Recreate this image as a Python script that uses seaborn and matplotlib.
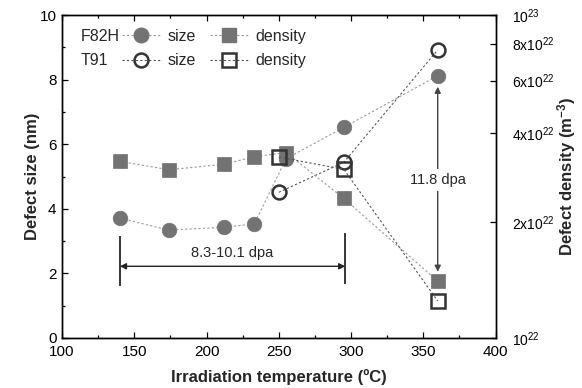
import numpy as np
import pandas as pd
import matplotlib
matplotlib.use("Agg")
import matplotlib.pyplot as plt
import matplotlib.transforms as mtransforms
from matplotlib.lines import Line2D
from matplotlib.ticker import MultipleLocator, FixedLocator, FixedFormatter, NullLocator
import seaborn as sns

# data
temp_f82h = [140, 174, 212, 233, 255, 295, 360]
size_f82h = [3.71, 3.34, 3.43, 3.53, 5.55, 6.52, 8.12]
dens_f82h = [3.2e22, 3.0e22, 3.13e22, 3.32e22, 3.43e22, 2.4e22, 1.26e22]

temp_t91 = [250, 295, 360]
size_t91 = [4.51, 5.44, 8.92]
dens_t91 = [3.31e22, 3.01e22, 1.08e22]

# density axis as drawn in the original (bottom labelled 10^22)
dens_lim = (8.1e21, 1e23)
dens_ticks = [8.1e21, 2e22, 4e22, 6e22, 8e22, 1e23]
dens_labels = ['$10^{22}$', '2x$10^{22}$', '4x$10^{22}$', '6x$10^{22}$', '8x$10^{22}$', '$10^{23}$']

sns.set_theme(style="ticks")
plt.rcParams['font.family'] = ['Liberation Sans', 'DejaVu Sans']
plt.rcParams['mathtext.fontset'] = 'custom'
plt.rcParams['mathtext.rm'] = 'Liberation Sans'
plt.rcParams['mathtext.default'] = 'regular'

grey = '#737373'
dark = '#333333'
dash = (0, (2, 2))

fig = plt.figure(figsize=(5.82, 3.88), dpi=100)
ax = fig.add_axes([0.1067, 0.1289, 0.7447, 0.8324])
ax2 = ax.twinx()

# defect size
sns.lineplot(x=temp_f82h, y=size_f82h, ax=ax, color='#999999', lw=0.8, ls=dash,
             marker='o', markersize=10.5, markerfacecolor=grey, markeredgecolor=grey,
             markeredgewidth=0.5, errorbar=None)
sns.lineplot(x=temp_t91, y=size_t91, ax=ax, color='#555555', lw=0.8, ls=dash,
             marker='o', markersize=10, markerfacecolor='none', markeredgecolor=dark,
             markeredgewidth=1.8, errorbar=None)

# defect density
sns.lineplot(x=temp_f82h, y=dens_f82h, ax=ax2, color='#999999', lw=0.8, ls=dash,
             marker='s', markersize=10.5, markerfacecolor=grey, markeredgecolor=grey,
             markeredgewidth=0.5, errorbar=None)
sns.lineplot(x=temp_t91, y=dens_t91, ax=ax2, color='#555555', lw=0.8, ls=dash,
             marker='s', markersize=9.5, markerfacecolor='none', markeredgecolor=dark,
             markeredgewidth=1.8, errorbar=None)

ax.set_xlim(100, 400)
ax.set_ylim(0, 10)
ax.xaxis.set_major_locator(MultipleLocator(50))
ax.xaxis.set_minor_locator(MultipleLocator(25))
ax.yaxis.set_major_locator(MultipleLocator(2))
ax.yaxis.set_minor_locator(MultipleLocator(1))
ax.tick_params(which='both', direction='in', top=True, right=False, colors='black', labelsize=11)
ax.tick_params(which='major', length=4, width=0.9)
ax.tick_params(which='minor', length=2.5, width=0.9)
ax.tick_params(axis='x', pad=5)
ax.tick_params(axis='y', pad=4)

ax2.set_yscale('log')
ax2.set_ylim(*dens_lim)
ax2.yaxis.set_major_locator(FixedLocator(dens_ticks))
ax2.yaxis.set_major_formatter(FixedFormatter(dens_labels))
ax2.yaxis.set_minor_locator(NullLocator())
ax2.tick_params(axis='y', direction='in', length=4, width=0.9, labelsize=10, pad=12, colors='black')

for a in (ax, ax2):
    for s in a.spines.values():
        s.set_linewidth(1.0)
        s.set_color('black')
    a.grid(False)

ax.set_xlabel('Irradiation temperature (ºC)', fontsize=12, fontweight='bold', labelpad=7)
ax.set_ylabel('Defect size (nm)', fontsize=12, fontweight='bold', labelpad=0)
ax2.set_ylabel('Defect density (m$^{-3}$)', fontsize=12, fontweight='bold', labelpad=0)

# dose annotations
ax.vlines([140, 296], [1.6, 1.67], [3.15, 3.25], color='black', lw=1.1)
ax.annotate('', xy=(140, 2.22), xytext=(296, 2.22),
            arrowprops=dict(arrowstyle='<|-|>', color='#222222', lw=1.0,
                            mutation_scale=9, shrinkA=0, shrinkB=0))
ax.text(218, 2.63, '8.3-10.1 dpa', ha='center', va='center', fontsize=10.5)

ax.annotate('', xy=(360, 7.78), xytext=(360, 2.05),
            arrowprops=dict(arrowstyle='<|-|>', color='#444444', lw=1.0,
                            mutation_scale=9, shrinkA=0, shrinkB=0))
ax.text(360, 4.89, '11.8 dpa', ha='center', va='center', fontsize=10.5,
        bbox=dict(facecolor='white', edgecolor='none', pad=3))

# legend
handles = [
    Line2D([], [], color='#999999', lw=0.8, ls=dash, marker='o', ms=10.5, mfc=grey, mec=grey),
    Line2D([], [], color='#555555', lw=0.8, ls=dash, marker='o', ms=10, mfc='none', mec=dark, mew=1.8),
    Line2D([], [], color='#999999', lw=0.8, ls=dash, marker='s', ms=10.5, mfc=grey, mec=grey),
    Line2D([], [], color='#555555', lw=0.8, ls=dash, marker='s', ms=9.5, mfc='none', mec=dark, mew=1.8),
]
labels = ['size', 'size', 'density', 'density']
leg = ax.legend(handles, labels, ncol=2, loc='upper left', frameon=False,
                bbox_to_anchor=(0.1375, 0.958), borderpad=0, borderaxespad=0,
                handlelength=2.4, handletextpad=0.45, columnspacing=0.9,
                labelspacing=0.6, fontsize=11.5)

fig.canvas.draw()
renderer = fig.canvas.get_renderer()
for txt, name in zip(leg.get_texts()[:2], ['F82H', 'T91']):
    bb = txt.get_window_extent(renderer)
    yc = 0.5 * (bb.y0 + bb.y1)
    fig.text(81, yc, name, ha='left', va='center',
             fontsize=11.5, transform=mtransforms.IdentityTransform())

fig.savefig('out.png', dpi=100)
